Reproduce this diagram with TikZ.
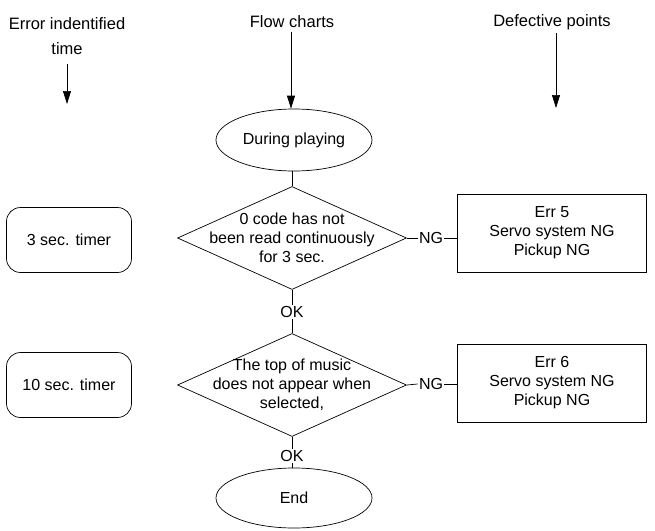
\documentclass[tikz,border=0pt]{standalone}
\usepackage{fontspec}
\setmainfont{Liberation Sans}
\usetikzlibrary{shapes.geometric,arrows.meta}
\begin{document}
\begin{tikzpicture}[x=1pt, y=-1pt, line width=0.7pt,
    >={Triangle[length=13pt,width=8pt]},
    hdr/.style={font=\fontsize{16.5}{25}\selectfont, align=center},
    txt/.style={font=\fontsize{16}{19}\selectfont, align=center},
    oval/.style={draw, ellipse, minimum width=156pt, minimum height=62pt, inner sep=0pt, txt},
    dia/.style={draw, diamond, minimum width=229pt, minimum height=103pt, inner sep=0pt},
    timer/.style={draw, rounded corners=14pt, minimum width=125pt, minimum height=65pt, txt},
    errbox/.style={draw, minimum width=189pt, minimum height=78pt, txt},
    tag/.style={txt, inner sep=1pt}]
    \useasboundingbox (0,0) rectangle (655,530);
    % Column headings
    \node[hdr] (hleft) at (67,36) {Error indentified\\time};
    \node[hdr] (hmid) at (292,22) {Flow charts};
    \node[hdr] (hright) at (552,22) {Defective points};
    \coordinate (aleft) at (67,64);
    \coordinate (aleftend) at (67,104);
    \coordinate (arightend) at (556,108);
    \draw[->] (aleft) -- (aleftend);
    \draw[->] (hright.south -| arightend) -- (arightend);

    % Flow chart
    \node[oval] (start) at (294,140) {During playing};
    \draw[->] (hmid.south -| 291,0) -- (start.north -| 291,0);

    \node[dia] (d1) at (292,238) {};
    \node[txt] (q1) at (d1) {0 code has not\\been read continuously\\for 3 sec.};
    \node[tag] (ok1) at (292,312) {OK};

    \node[dia] (d2) at (292,385) {};
    \node[txt] (q2) at (d2) {The top of music\\does not appear when\\selected,};
    \node[tag] (ok2) at (292,456) {OK};

    \node[oval, minimum height=60pt] (stop) at (294,498) {End};

    \draw (start.south -| d1.north) -- (d1.north);
    \draw (d1.south) -- (ok1.north);
    \draw (ok1.south) -- (d2.north);
    \draw (d2.south) -- (ok2.north);
    \draw (ok2.south) -- (ok2.south |- stop.north);

    % Timers
    \node[timer] (t1) at (69,240) {3 sec. timer};
    \node[timer] (t2) at (69,385) {10 sec. timer};

    % Defective points
    \node[tag] (ng1) at (431,238) {NG};
    \node[tag] (ng2) at (431,384) {NG};
    \node[errbox] (e1) at (552,233) {Err 5\\Servo system NG\\Pickup NG};
    \node[errbox] (e2) at (552,383) {Err 6\\Servo system NG\\Pickup NG};
    \draw (d1.east) -- (ng1.west);
    \draw (ng1.east) -- (ng1.east -| e1.west);
    \draw (d2.east) -- (ng2.west);
    \draw (ng2.east) -- (ng2.east -| e2.west);
\end{tikzpicture}
\end{document}
